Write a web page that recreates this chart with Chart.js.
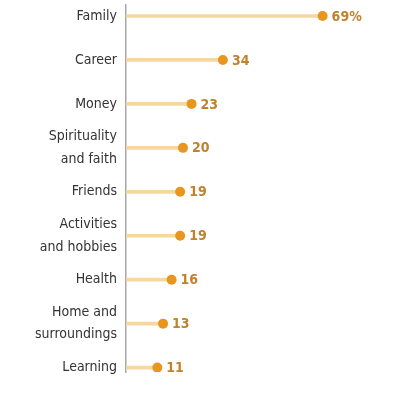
<!DOCTYPE html>
<html>
<head>
<meta charset="utf-8">
<script src="https://cdn.jsdelivr.net/npm/chart.js@4"></script>
<style>
html,body{margin:0;padding:0;background:#fff;}
#wrap{width:396px;height:398px;position:relative;}
</style>
</head>
<body>
<div id="wrap"><canvas id="c" width="396" height="398"></canvas></div>
<script>
const categories = [["Family"],["Career"],["Money"],["Spirituality","and faith"],["Friends"],["Activities","and hobbies"],["Health"],["Home and","surroundings"],["Learning"]];
const values = [69, 34, 23, 20, 19, 19, 16, 13, 11];
const valueLabels = ["69%", "34", "23", "20", "19", "19", "16", "13", "11"];

const FONT = "'DejaVu Sans Condensed', 'Roboto', sans-serif";
const pts = values.map((v, i) => ({x: v, y: i}));

const valueLabelPlugin = {
  id: 'valueLabels',
  afterDatasetsDraw(chart) {
    const meta = chart.getDatasetMeta(1);
    const ctx = chart.ctx;
    ctx.save();
    ctx.font = "bold 14px " + FONT;
    ctx.fillStyle = '#C0822F';
    ctx.textAlign = 'left';
    ctx.textBaseline = 'middle';
    meta.data.forEach((el, i) => {
      ctx.fillText(valueLabels[i], el.x + 9, el.y + 1);
    });
    ctx.restore();
  }
};

new Chart(document.getElementById('c'), {
  type: 'bar',
  data: {
    datasets: [
      {
        type: 'bar',
        data: pts,
        backgroundColor: '#F6D7A0',
        barThickness: 3,
        borderWidth: 0,
        order: 2
      },
      {
        type: 'scatter',
        data: pts,
        backgroundColor: '#E8961E',
        borderColor: '#E8961E',
        pointRadius: 5,
        pointHoverRadius: 5,
        borderWidth: 0,
        order: 1
      }
    ]
  },
  options: {
    indexAxis: 'y',
    responsive: false,
    animation: false,
    layout: {padding: {top: 4, bottom: 26, left: 0, right: 0}},
    plugins: {legend: {display: false}, tooltip: {enabled: false}},
    scales: {
      x: {type: 'linear', min: 0, max: 93, display: false},
      y: {
        type: 'linear',
        reverse: true,
        offset: false,
        min: -0.25,
        max: 8.1,
        grid: {display: false, drawTicks: false},
        border: {display: true, color: '#A8A8A8', width: 1.5},
        afterBuildTicks(scale) { scale.ticks = categories.map((_, i) => ({value: i})); },
        afterFit(scale) { scale.width = 126; scale.paddingTop = 0; scale.paddingBottom = 0; },
        ticks: {
          autoSkip: false,
          padding: 9,
          color: '#333333',
          font: {family: FONT, size: 14, lineHeight: 1.6},
          callback: (v) => categories[v] || ''
        }
      }
    }
  },
  plugins: [valueLabelPlugin]
});
</script>
</body>
</html>
